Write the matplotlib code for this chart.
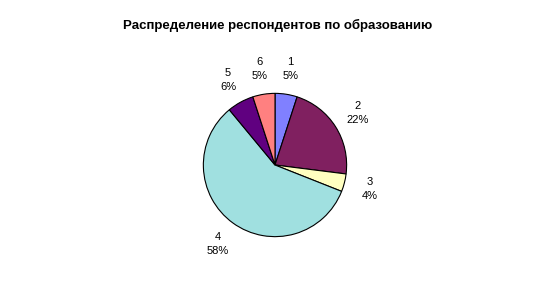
import matplotlib
matplotlib.use("Agg")
import matplotlib.pyplot as plt

# data
categories = ["1", "2", "3", "4", "5", "6"]
shares = [5, 22, 4, 58, 6, 5]
colors = ["#8080FF", "#802060", "#FFFFC0", "#A0E0E0", "#600080", "#FF8080"]

plt.rcParams["font.family"] = ["Liberation Sans", "DejaVu Sans"]

fig = plt.figure(figsize=(5.51, 2.94), dpi=100)
fig.text(0.503, 0.915, "Распределение респондентов по образованию",
         ha="center", va="center", fontsize=9.5, fontweight="bold")

ax = fig.add_axes([203 / 551, 57 / 294, 144 / 551, 144 / 294])
labels = [f"{c}\n{s}%" for c, s in zip(categories, shares)]
wedges, texts = ax.pie(shares, labels=labels, colors=colors, startangle=90,
                       counterclock=False, labeldistance=1.36,
                       wedgeprops=dict(edgecolor="black", linewidth=0.8),
                       textprops=dict(fontsize=8, ha="center", va="center",
                                      linespacing=1.5))
ax.set_xlim(-1.005, 1.005)
ax.set_ylim(-1.005, 1.005)
ax.set_aspect("equal")

fig.savefig("out.png", dpi=100)
